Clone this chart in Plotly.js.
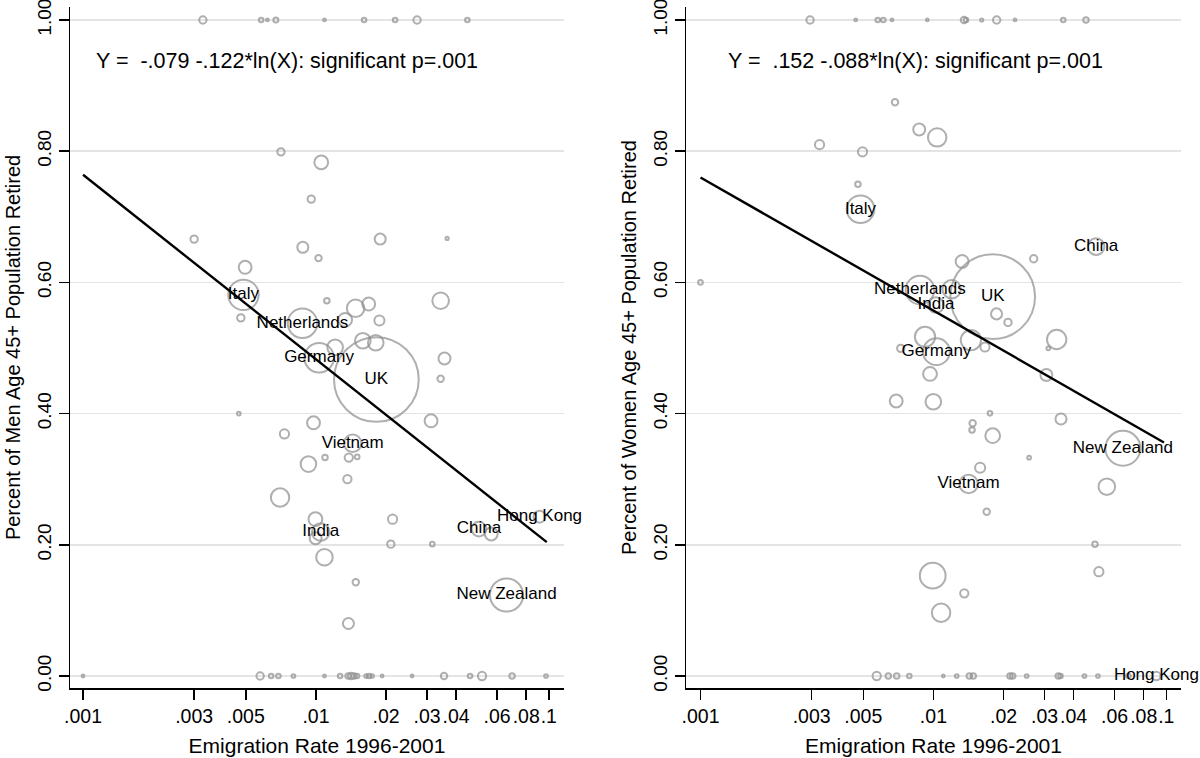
<!DOCTYPE html>
<html>
<head>
<meta charset="utf-8">
<script src="https://cdn.plot.ly/plotly-3.0.1.min.js"></script>
<style>
  body { margin: 0; background: #fff; }
  #chart { width: 1200px; height: 758px; }
</style>
</head>
<body>
<div id="chart"></div>
<script>
// men, age 45+ : emigration rate vs share retired (unlabelled origins)
var menX = [0.00327, 0.00582, 0.00619, 0.00673, 0.01088, 0.0161, 0.02188, 0.02718, 0.0447,
  0.001, 0.00576, 0.006423, 0.006901, 0.008007, 0.01088, 0.0127, 0.01375, 0.01416, 0.01459, 0.01502,
  0.01643, 0.01692, 0.01742, 0.01924, 0.02588, 0.03549, 0.0459, 0.05168, 0.06953, 0.09727,
  0.004966, 0.00476, 0.01114, 0.01335, 0.0148, 0.01685, 0.01873, 0.01209, 0.0159, 0.01807,
  0.007077, 0.01054, 0.009545, 0.002999, 0.008786, 0.01026, 0.01888, 0.0366, 0.03432, 0.03565,
  0.03432, 0.004666, 0.009765, 0.007323, 0.03122, 0.01094, 0.01384, 0.01504, 0.009286, 0.01365,
  0.007016, 0.009951, 0.00997, 0.01088, 0.02134, 0.02097, 0.0316, 0.01483, 0.01379, 0.05659];
var menY = [1, 1, 1, 1, 1, 1, 1, 1, 1,
  0, 0, 0, 0, 0, 0, 0, 0, 0, 0, 0,
  0, 0, 0, 0, 0, 0, 0, 0, 0, 0,
  0.623, 0.546, 0.572, 0.543, 0.5605, 0.567, 0.542, 0.501, 0.511, 0.508,
  0.799, 0.783, 0.727, 0.666, 0.6535, 0.637, 0.666, 0.667, 0.572, 0.484,
  0.453, 0.4, 0.386, 0.369, 0.389, 0.333, 0.333, 0.334, 0.323, 0.3,
  0.272, 0.239, 0.21, 0.181, 0.239, 0.201, 0.201, 0.143, 0.08, 0.2165];
var menW = [64, 25, 9, 30, 9, 25, 25, 64, 25,
  9, 64, 25, 25, 16, 9, 25, 36, 49, 36, 25,
  16, 25, 16, 9, 9, 49, 25, 81, 36, 16,
  196, 64, 36, 225, 361, 196, 121, 289, 289, 289,
  64, 225, 64, 64, 144, 49, 144, 12, 324, 169,
  49, 16, 196, 100, 196, 36, 81, 25, 289, 81,
  400, 225, 169, 324, 100, 64, 25, 49, 144, 196];

// men, labelled origins
var menCountry = ['Italy', 'Netherlands', 'Germany', 'UK', 'Vietnam', 'India', 'China', 'Hong Kong', 'New Zealand'];
var menCountryX = [0.004884, 0.008753, 0.01032, 0.01818, 0.01438, 0.01048, 0.05012, 0.09123, 0.06584];
var menCountryY = [0.581, 0.5376, 0.485, 0.452, 0.3547, 0.2195, 0.224, 0.2429, 0.1235];
var menCountryW = [1089, 1024, 1024, 8464, 361, 361, 256, 169, 1296];

// women, age 45+ (unlabelled origins)
var womenX = [0.002954, 0.004638, 0.005768, 0.006095, 0.006643, 0.009415, 0.01353, 0.0138, 0.01612, 0.01869,
  0.0224, 0.0361, 0.04519,
  0.00571, 0.006404, 0.006958, 0.00788, 0.01103, 0.01259, 0.01426, 0.01483, 0.02132, 0.02189,
  0.02515, 0.03437, 0.03513, 0.04452, 0.05087, 0.06877,
  0.001, 0.003245, 0.004962, 0.006842, 0.00869, 0.01038, 0.004742, 0.02695, 0.01328, 0.01198,
  0.01867, 0.0209, 0.009204, 0.007243, 0.01449, 0.01665, 0.03382, 0.03113, 0.00967, 0.03055,
  0.006922, 0.009991, 0.01749, 0.0353, 0.01474, 0.01465, 0.01797, 0.02575, 0.01587, 0.05553,
  0.01693, 0.04938, 0.05132, 0.009931, 0.01357, 0.01079];
var womenY = [1, 1, 1, 1, 1, 1, 1, 1, 1, 1,
  1, 1, 1,
  0, 0, 0, 0, 0, 0, 0, 0, 0, 0,
  0, 0, 0, 0, 0, 0,
  0.6, 0.81, 0.799, 0.8745, 0.833, 0.821, 0.7495, 0.636, 0.632, 0.5895,
  0.552, 0.539, 0.517, 0.4995, 0.512, 0.5015, 0.513, 0.4995, 0.4604, 0.4588,
  0.4192, 0.418, 0.4004, 0.3918, 0.3852, 0.375, 0.3663, 0.3328, 0.3175, 0.2886,
  0.2505, 0.2007, 0.159, 0.1529, 0.126, 0.0965];
var womenW = [64, 9, 25, 25, 9, 9, 49, 25, 12, 64,
  9, 25, 36,
  81, 36, 36, 25, 9, 16, 36, 36, 36, 36,
  16, 36, 25, 16, 16, 25,
  25, 100, 100, 49, 169, 400, 36, 64, 196, 400,
  144, 64, 484, 64, 484, 100, 441, 16, 225, 169,
  196, 289, 25, 144, 49, 36, 256, 16, 121, 324,
  49, 36, 100, 784, 81, 400];

// women, labelled origins
var womenCountry = ['Italy', 'China', 'Netherlands', 'UK', 'India', 'Germany', 'New Zealand', 'Vietnam', 'Hong Kong'];
var womenCountryX = [0.004865, 0.04996, 0.008753, 0.01797, 0.01026, 0.0103, 0.06511, 0.01416, 0.09069];
var womenCountryY = [0.7114, 0.6545, 0.5884, 0.5782, 0.5655, 0.4944, 0.3471, 0.2927, 0];
var womenCountryW = [900, 324, 961, 8464, 289, 841, 1444, 400, 81];

// fitted lines (ends)
var menFitX = [0.001, 0.098];
var menFitY = [0.764, 0.204];
var womenFitX = [0.001, 0.0977];
var womenFitY = [0.760, 0.356];

var xTickVals = [0.001, 0.003, 0.005, 0.01, 0.02, 0.03, 0.04, 0.06, 0.08, 0.1];
var xTickText = ['.001', '.003', '.005', '.01', '.02', '.03', '.04', '.06', '.08', '.1'];
var yTickVals = [0, 0.2, 0.4, 0.6, 0.8, 1];

var menEq = 'Y =  -.079 -.122*ln(X): significant p=.001';
var womenEq = 'Y =  .152 -.088*ln(X): significant p=.001';

var circleGrey = '#8e8e8e';
var sref = 2.36;

function bubbles(x, y, w, xa, ya) {
  return {
    x: x, y: y, xaxis: xa, yaxis: ya,
    type: 'scatter', mode: 'markers', cliponaxis: false, hoverinfo: 'skip',
    marker: { size: w, sizemode: 'area', sizeref: sref, color: 'rgba(0,0,0,0)',
      line: { color: circleGrey, width: 2 } }
  };
}

function named(x, y, w, names, xa, ya) {
  var t = bubbles(x, y, w, xa, ya);
  t.mode = 'markers+text';
  t.text = names;
  t.textposition = 'middle center';
  t.textfont = { size: 17, color: '#000' };
  return t;
}

function fit(x, y, xa, ya) {
  return { x: x, y: y, xaxis: xa, yaxis: ya, type: 'scatter', mode: 'lines',
    hoverinfo: 'skip', line: { color: '#000', width: 2.4 } };
}

var data = [
  bubbles(menX, menY, menW, 'x', 'y'),
  named(menCountryX, menCountryY, menCountryW, menCountry, 'x', 'y'),
  fit(menFitX, menFitY, 'x', 'y'),
  bubbles(womenX, womenY, womenW, 'x2', 'y2'),
  named(womenCountryX, womenCountryY, womenCountryW, womenCountry, 'x2', 'y2'),
  fit(womenFitX, womenFitY, 'x2', 'y2')
];

function xAxis(dom, range, anchor) {
  return {
    type: 'log', domain: dom, range: range, anchor: anchor,
    showline: true, linecolor: '#000', linewidth: 1.5,
    ticks: 'outside', ticklen: 10, tickwidth: 1.5, tickcolor: '#000',
    tickmode: 'array', tickvals: xTickVals, ticktext: xTickText, tickangle: 0,
    tickfont: { size: 19.5 }, showgrid: false, zeroline: false,
    title: { text: 'Emigration Rate 1996-2001', font: { size: 21 }, standoff: 12 }
  };
}

function yAxis(titleText, anchor) {
  return {
    domain: [0, 1], range: [-0.0183, 1.0198], anchor: anchor,
    showline: true, linecolor: '#000', linewidth: 1.5,
    ticks: 'outside', ticklen: 10, tickwidth: 1.5, tickcolor: '#000',
    tickmode: 'array', tickvals: yTickVals, tickformat: '.2f', tickangle: -90,
    ticklabeloverflow: 'allow',
    tickfont: { size: 19 }, showgrid: true, gridcolor: '#e4e4e4', gridwidth: 1.5,
    zeroline: false,
    title: { text: titleText, font: { size: 20 }, standoff: 8 }
  };
}

var layout = {
  width: 1200, height: 758,
  margin: { l: 70, r: 19, t: 7, b: 70 },
  paper_bgcolor: '#fff', plot_bgcolor: '#fff',
  showlegend: false,
  font: { family: 'Liberation Sans, Arial, sans-serif', color: '#000', size: 19 },
  xaxis: xAxis([0, 0.4446], [-3.056, -0.935], 'y'),
  yaxis: yAxis('Percent of Men Age 45+ Population Retired', 'x'),
  xaxis2: xAxis([0.5545, 1], [-3.062, -0.937], 'y2'),
  yaxis2: yAxis('Percent of Women Age 45+ Population Retired', 'x2'),
  annotations: [
    { text: menEq, xref: 'paper', yref: 'paper', x: 0.1953, y: 0.9207,
      xanchor: 'center', yanchor: 'middle', showarrow: false, font: { size: 21.5 } },
    { text: womenEq, xref: 'paper', yref: 'paper', x: 0.7606, y: 0.9207,
      xanchor: 'center', yanchor: 'middle', showarrow: false, font: { size: 21.5 } }
  ]
};

Plotly.newPlot('chart', data, layout, { displayModeBar: false, staticPlot: true });
</script>
</body>
</html>
